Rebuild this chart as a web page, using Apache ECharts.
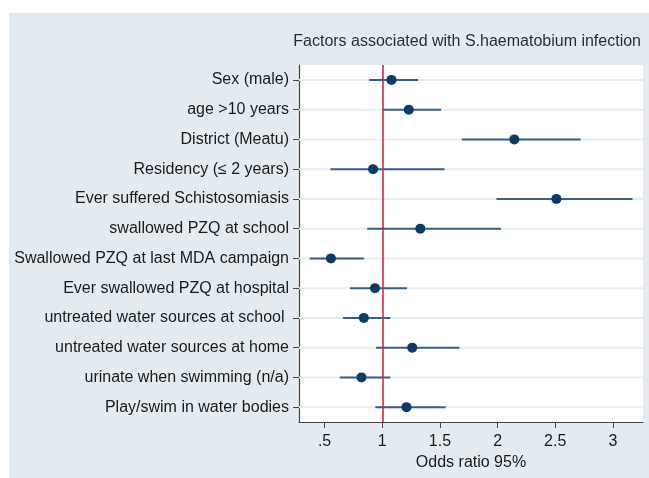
<!DOCTYPE html>
<html>
<head>
<meta charset="utf-8">
<script src="https://cdn.jsdelivr.net/npm/echarts@6/dist/echarts.min.js"></script>
<style>
  html, body { margin: 0; padding: 0; background: #fff; }
  #chart { width: 649px; height: 478px; }
</style>
</head>
<body>
<div id="chart"></div>
<script>
// factors, top to bottom
var factors = [
  "Sex (male)",
  "age >10 years",
  "District (Meatu)",
  "Residency (\u2264 2 years)",
  "Ever suffered Schistosomiasis",
  "swallowed PZQ at school",
  "Swallowed PZQ at last MDA campaign",
  "Ever swallowed PZQ at hospital",
  "untreated water sources at school ",
  "untreated water sources at home",
  "urinate when swimming (n/a)",
  "Play/swim in water bodies"
];
// odds ratio and 95% CI
var oddsRatio = [1.08, 1.23, 2.145, 0.92, 2.51, 1.33, 0.555, 0.937, 0.84, 1.26, 0.82, 1.21];
var ciLow     = [0.887, 1.0, 1.69, 0.55, 1.99, 0.87, 0.37, 0.72, 0.66, 0.945, 0.632, 0.94];
var ciHigh    = [1.31, 1.51, 2.72, 1.54, 3.17, 2.03, 0.84, 1.215, 1.07, 1.67, 1.07, 1.55];
var tickValues = [0.5, 1, 1.5, 2, 2.5, 3];
var tickLabels = [".5", "1", "1.5", "2", "2.5", "3"];
var refLine = 1;
var xMin = 0.278, xMax = 3.261;

(function(){
    var myChart = echarts.init(document.getElementById("chart"));

    var ciData = [], pointData = [], gridData = [];
    for (var i = 0; i < factors.length; i++) {
        ciData.push([ciLow[i], i, ciHigh[i]]);
        pointData.push([oddsRatio[i], i]);
        gridData.push([xMin, i, xMax]);
    }

    //横线 / 误差线
    function hLine(color, width){
        return function(params, api){
            var p1 = api.coord([api.value(0), api.value(1)]);
            var p2 = api.coord([api.value(2), api.value(1)]);
            return {
                type: "line",
                shape: { x1: p1[0], y1: p1[1], x2: p2[0], y2: p2[1] },
                style: { stroke: color, lineWidth: width }
            };
        };
    }

    var option = {
        animation: false,
        textStyle: { fontFamily: "Liberation Sans, Arial, sans-serif" },
        graphic: [{
            type: "rect",
            left: 9, top: 13,
            shape: { width: 640, height: 465 },
            style: { fill: "#e4ebf0" },
            z: -10
        }],
        title: {
            text: "Factors associated with S.haematobium infection",
            right: 3,
            top: 29,
            textStyle: { fontSize: 16, fontWeight: "normal", color: "#1f2c3a" }
        },
        grid: {
            left: 299, right: 6, top: 65, bottom: 56,
            show: true,
            backgroundColor: "#fff",
            borderWidth: 0
        },
        xAxis: {
            type: "value",
            min: xMin,
            max: xMax,
            name: "Odds ratio 95%",
            nameLocation: "middle",
            nameGap: 28,
            nameTextStyle: { fontSize: 16, color: "#1a1a1a" },
            axisLine: { show: true, lineStyle: { color: "#444", width: 1.2 } },
            axisTick: { show: true, length: 6, customValues: tickValues, lineStyle: { color: "#444" } },
            axisLabel: {
                customValues: tickValues,
                margin: 12,
                fontSize: 16,
                color: "#1a1a1a",
                formatter: function(v){
                    var k = tickValues.indexOf(v);
                    return k >= 0 ? tickLabels[k] : "";
                }
            },
            splitLine: { show: false }
        },
        yAxis: {
            type: "category",
            inverse: true,
            data: factors,
            axisLine: { show: true, lineStyle: { color: "#444", width: 1.2 } },
            axisTick: { show: true, alignWithLabel: true, length: 6, lineStyle: { color: "#444" } },
            axisLabel: { fontSize: 16, color: "#1a1a1a", margin: 10 },
            splitLine: { show: false }
        },
        series: [
            {
                type: "custom",
                renderItem: hLine("#e6eef2", 2),
                data: gridData,
                z: 1,
                silent: true
            },
            {
                type: "custom",
                renderItem: hLine("#3a5f86", 2),
                data: ciData,
                z: 3
            },
            {
                type: "scatter",
                symbol: "circle",
                symbolSize: 10,
                itemStyle: { color: "#0f3a66", opacity: 1 },
                data: pointData,
                z: 5,
                markLine: {
                    silent: true,
                    symbol: "none",
                    z: 2,
                    label: { show: false },
                    lineStyle: { color: "#d2173a", width: 1.5, type: "solid" },
                    data: [{ xAxis: refLine }]
                }
            }
        ]
    };

    myChart.setOption(option);

    window.addEventListener("resize", function(){
        myChart.resize();
    });
})();
</script>
</body>
</html>
